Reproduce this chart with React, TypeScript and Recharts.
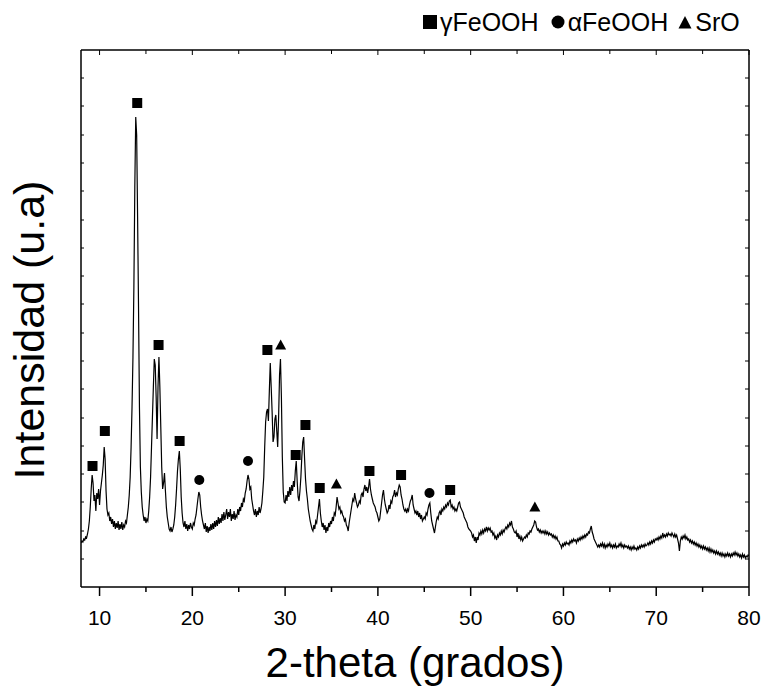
import { ComposedChart, Line, Scatter, XAxis, YAxis } from "recharts";

const FONT = '"Liberation Sans", Arial, Helvetica, sans-serif';

// XRD scan, 0.1° steps, intensities (arbitrary units)
const SCAN_STEP = 0.1;

const counts8to20 = [
  44, 46, 45, 48, 47, 50, 49, 53, 58, 66,
  80, 98, 112, 104, 86, 92, 76, 94, 88, 98,
  82, 96, 104, 112, 122, 140, 128, 96, 78, 72,
  74, 66, 70, 63, 68, 60, 66, 58, 64, 59,
  66, 57, 63, 58, 65, 57, 62, 60, 66, 64,
  72, 80, 92, 110, 140, 180, 230, 300, 400, 470,
  452, 370, 280, 180, 120, 95, 80, 72, 66, 70,
  64, 68, 66, 76, 90, 110, 140, 170, 200, 228,
  222, 190, 148, 200, 230, 200, 160, 120, 98, 104,
  114, 96, 80, 70, 64, 58, 56, 60, 55, 58,
  62, 70, 82, 98, 116, 128, 136, 118, 90, 74,
  64, 60, 66, 58, 63, 56, 62, 58, 64, 60,
];

const counts20to30 = [
  58, 64, 62, 68, 72, 80, 88, 95, 92, 80,
  72, 66, 62, 58, 64, 55, 61, 54, 60, 56,
  63, 57, 64, 58, 66, 60, 67, 61, 70, 63,
  69, 64, 73, 66, 75, 67, 72, 78, 68, 75,
  70, 78, 66, 73, 68, 76, 67, 72, 70, 78,
  72, 80, 76, 84, 80, 88, 86, 94, 98, 106,
  112, 108, 98, 100, 88, 82, 76, 72, 78, 70,
  76, 72, 80, 74, 78, 84, 96, 110, 140, 165,
  175, 178, 166, 196, 224, 200, 175, 145, 150, 168,
  172, 156, 140, 170, 212, 228, 190, 130, 95, 85,
];

const counts30to40 = [
  84, 92, 86, 96, 90, 100, 92, 102, 96, 106,
  100, 116, 126, 106, 90, 86, 96, 110, 130, 145,
  150, 128, 108, 96, 88, 78, 72, 66, 62, 58,
  56, 62, 58, 66, 64, 72, 80, 88, 74, 66,
  60, 64, 57, 62, 54, 60, 56, 64, 60, 66,
  63, 70, 66, 74, 72, 80, 90, 84, 78, 80,
  74, 76, 72, 70, 66, 68, 62, 60, 56, 64,
  70, 76, 82, 88, 86, 94, 88, 84, 80, 82,
  86, 84, 92, 94, 90, 98, 102, 96, 100, 94,
  100, 108, 98, 92, 88, 84, 82, 80, 76, 74,
];

const counts40to50 = [
  70, 66, 68, 76, 84, 92, 97, 88, 82, 78,
  74, 76, 82, 78, 86, 84, 90, 92, 97, 90,
  94, 92, 98, 102, 100, 92, 88, 82, 78, 76,
  78, 74, 78, 76, 82, 86, 88, 92, 82, 78,
  74, 76, 72, 76, 70, 74, 68, 72, 66, 68,
  70, 68, 74, 72, 78, 82, 84, 74, 66, 62,
  58, 54, 60, 66, 70, 68, 74, 76, 72, 78,
  76, 80, 78, 82, 80, 84, 82, 86, 87, 80,
  82, 78, 80, 76, 78, 76, 80, 84, 85, 80,
  78, 76, 74, 70, 68, 66, 64, 60, 58, 57,
];

const counts50to60 = [
  56, 54, 50, 52, 46, 50, 44, 50, 47, 54,
  52, 56, 53, 57, 54, 58, 56, 60, 56, 59,
  57, 59, 55, 56, 52, 54, 49, 51, 47, 52,
  50, 54, 52, 56, 53, 57, 55, 58, 60, 58,
  62, 60, 64, 62, 66, 60, 58, 55, 54, 56,
  50, 54, 48, 51, 47, 50, 46, 48, 50, 49,
  52, 50, 54, 53, 56, 55, 58, 60, 62, 66,
  65, 60, 57, 58, 55, 57, 54, 56, 54, 56,
  53, 56, 53, 55, 52, 54, 52, 53, 50, 52,
  49, 51, 48, 50, 46, 46, 43, 42, 39, 43,
];

const counts60to70 = [
  41, 44, 42, 45, 43, 44, 42, 46, 44, 47,
  45, 48, 46, 47, 44, 48, 46, 49, 47, 50,
  48, 51, 49, 52, 50, 53, 52, 55, 54, 58,
  61, 55, 52, 48, 46, 44, 42, 40, 42, 40,
  43, 41, 44, 40, 43, 39, 42, 40, 43, 41,
  44, 40, 42, 39, 42, 40, 43, 39, 41, 40,
  43, 41, 44, 40, 42, 39, 42, 40, 41, 39,
  41, 38, 40, 37, 40, 38, 41, 38, 39, 37,
  40, 38, 41, 39, 42, 40, 42, 40, 43, 41,
  42, 44, 42, 45, 43, 46, 44, 47, 45, 48,
];

const counts70to80 = [
  47, 49, 47, 50, 48, 51, 49, 54, 50, 52,
  50, 53, 51, 54, 52, 53, 51, 54, 52, 50,
  53, 50, 52, 48, 44, 36, 46, 50, 48, 51,
  49, 52, 48, 50, 47, 48, 45, 47, 44, 46,
  43, 45, 42, 44, 41, 43, 40, 42, 39, 41,
  38, 41, 38, 40, 37, 39, 36, 39, 35, 38,
  35, 37, 34, 36, 33, 36, 33, 35, 32, 34,
  31, 34, 31, 33, 30, 33, 31, 34, 31, 33,
  30, 33, 31, 34, 32, 35, 32, 34, 31, 33,
  30, 32, 29, 33, 30, 32, 29, 31, 30, 32,
  31,
];

const scanBlocks: [number, number[]][] = [
  [8, counts8to20],
  [20, counts20to30],
  [30, counts30to40],
  [40, counts40to50],
  [50, counts50to60],
  [60, counts60to70],
  [70, counts70to80],
];

// phase markers: [2θ, marker height]
const gammaFeOOH = [
  [9.24, 121], [10.57, 156], [14.06, 484], [16.36, 242], [18.63, 146],
  [28.09, 237], [31.14, 132], [32.19, 162], [33.73, 99], [39.09, 116],
  [42.5, 112], [47.79, 97],
];
const alphaFeOOH = [[20.75, 107], [26.0, 126], [45.56, 94]];
const srO = [[29.52, 242], [35.53, 103], [56.92, 80]];

const xTicks = [10, 15, 20, 25, 30, 35, 40, 45, 50, 55, 60, 65, 70, 75, 80];
const yTicks = [28, 56, 85, 113, 141, 169, 198, 226, 254, 283, 311, 339, 367, 396, 424, 452, 481, 509];

const scan = scanBlocks.flatMap(([start, counts]) =>
  counts.map((c, k) => ({ t: Math.round((start + k * SCAN_STEP) * 10) / 10, i: c }))
);
const toPoints = (rows: number[][]) => rows.map(([t, i]) => ({ t, i }));

const Square = ({ cx, cy }: any) => (
  <rect x={cx - 5} y={cy - 5} width={10} height={10} fill="#000" />
);
const Dot = ({ cx, cy }: any) => <circle cx={cx} cy={cy} r={5} fill="#000" />;
const Triangle = ({ cx, cy }: any) => (
  <polygon
    points={`${cx},${cy - 5.5} ${cx + 5.5},${cy + 4.5} ${cx - 5.5},${cy + 4.5}`}
    fill="#000"
  />
);

// tick props come in with tickSize/tickMargin 0, so x/y sit on the axis line
function BottomTick({ x, y, payload }: any) {
  const major = payload.value % 10 === 0;
  return (
    <g>
      <line x1={x} x2={x} y1={y} y2={y + (major ? 9 : 5)} stroke="#000" strokeWidth={1.5} />
      {major && (
        <text x={x} y={y + 38} textAnchor="middle" fontSize={21} fontFamily={FONT} fill="#000">
          {payload.value}
        </text>
      )}
    </g>
  );
}

function TopTick({ x, y, payload }: any) {
  const major = payload.value % 10 === 0;
  return <line x1={x} x2={x} y1={y} y2={y + (major ? 5 : 4)} stroke="#000" strokeWidth={1} />;
}

function LeftTick({ x, y }: any) {
  return <line x1={x} x2={x + 3} y1={y} y2={y} stroke="#000" strokeWidth={1} />;
}

function RightTick({ x, y }: any) {
  return <line x1={x} x2={x - 4} y1={y} y2={y} stroke="#000" strokeWidth={1} />;
}

function LegendMark({ kind }: { kind: "square" | "dot" | "triangle" }) {
  return (
    <svg width={14} height={14} style={{ marginRight: 3 }}>
      {kind === "square" && <rect x={0} y={0} width={14} height={14} fill="#000" />}
      {kind === "dot" && <circle cx={7} cy={7} r={6.5} fill="#000" />}
      {kind === "triangle" && <polygon points="7,1 13.5,13.5 0.5,13.5" fill="#000" />}
    </svg>
  );
}

const axisStroke = { stroke: "#000", strokeWidth: 1.5 };

export default function App() {
  return (
    <div
      style={{
        position: "absolute",
        left: 0,
        top: 0,
        width: 765,
        height: 690,
        background: "#fff",
        fontFamily: FONT,
      }}
    >
      <div
        style={{
          position: "absolute",
          top: 8,
          left: 423,
          display: "flex",
          alignItems: "center",
          fontSize: 25,
          color: "#000",
          whiteSpace: "nowrap",
          lineHeight: "28px",
        }}
      >
        <LegendMark kind="square" />
        <span style={{ marginRight: 12 }}>γFeOOH</span>
        <LegendMark kind="dot" />
        <span style={{ marginRight: 10 }}>αFeOOH</span>
        <LegendMark kind="triangle" />
        <span>SrO</span>
      </div>
      <ComposedChart
        width={765}
        height={690}
        margin={{ top: 40, right: 10, bottom: 63, left: 41 }}
      >
        <XAxis
          dataKey="t"
          type="number"
          domain={[8, 80]}
          allowDataOverflow
          ticks={xTicks}
          interval={0}
          height={40}
          tickSize={0}
          tickMargin={0}
          tickLine={false}
          tick={<BottomTick />}
          axisLine={axisStroke}
          label={{
            content: () => (
              <text x={415} y={677} textAnchor="middle" fontSize={42} fontFamily={FONT} fill="#000">
                2-theta (grados)
              </text>
            ),
          }}
        />
        <XAxis
          xAxisId="top"
          orientation="top"
          dataKey="t"
          type="number"
          domain={[8, 80]}
          allowDataOverflow
          ticks={xTicks}
          interval={0}
          height={10}
          tickSize={0}
          tickMargin={0}
          tickLine={false}
          tick={<TopTick />}
          axisLine={axisStroke}
        />
        <YAxis
          dataKey="i"
          type="number"
          domain={[0, 537]}
          allowDataOverflow
          ticks={yTicks}
          interval={0}
          width={40}
          tickSize={0}
          tickMargin={0}
          tickLine={false}
          tick={<LeftTick />}
          axisLine={axisStroke}
          label={{
            content: () => (
              <text
                transform="translate(44,330) rotate(-90)"
                textAnchor="middle"
                fontSize={43}
                fontFamily={FONT}
                fill="#000"
              >
                Intensidad (u.a)
              </text>
            ),
          }}
        />
        <YAxis
          yAxisId="right"
          orientation="right"
          dataKey="i"
          type="number"
          domain={[0, 537]}
          allowDataOverflow
          ticks={yTicks}
          interval={0}
          width={6}
          tickSize={0}
          tickMargin={0}
          tickLine={false}
          tick={<RightTick />}
          axisLine={axisStroke}
        />
        <Line
          data={scan}
          dataKey="i"
          type="linear"
          stroke="#000"
          strokeWidth={1.2}
          dot={false}
          activeDot={false}
          isAnimationActive={false}
        />
        <Scatter data={toPoints(gammaFeOOH)} dataKey="i" shape={<Square />} isAnimationActive={false} />
        <Scatter data={toPoints(alphaFeOOH)} dataKey="i" shape={<Dot />} isAnimationActive={false} />
        <Scatter data={toPoints(srO)} dataKey="i" shape={<Triangle />} isAnimationActive={false} />
      </ComposedChart>
    </div>
  );
}
